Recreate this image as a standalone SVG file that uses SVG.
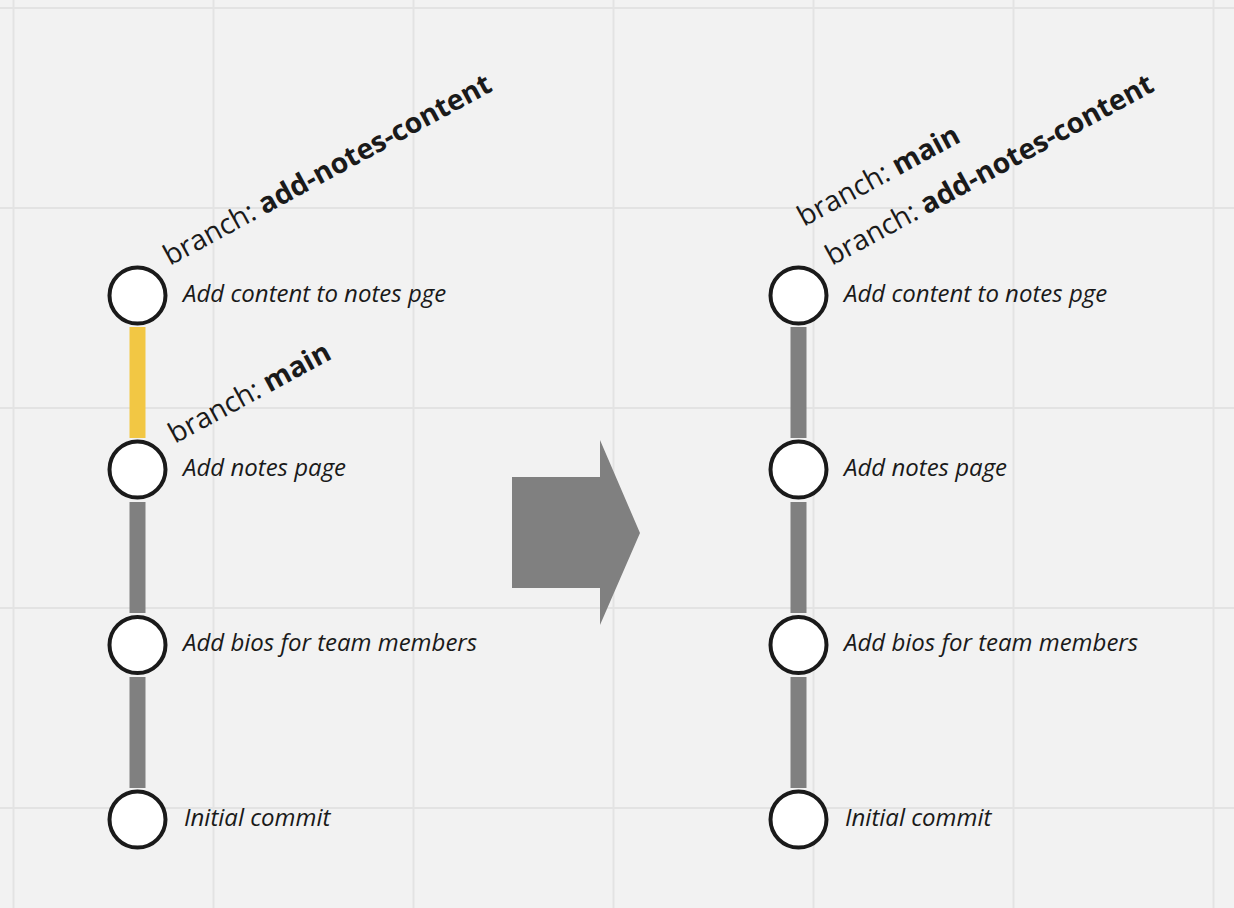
<svg xmlns="http://www.w3.org/2000/svg" width="1234" height="908" viewBox="0 0 1234 908">
<style>
.grid{stroke:#e3e3e3;stroke-width:2}
.seg{stroke-width:16;stroke:#808080}
.seg.y{stroke:#f2c744}
.node circle{fill:#fff;stroke:#1a1a1a;stroke-width:4}
.lbl{font-family:"Open Sans","Noto Sans",sans-serif;font-style:italic;font-size:24px;fill:#1a1a1a}
.br{font-family:"Open Sans","Noto Sans",sans-serif;font-size:28.3px;fill:#1a1a1a}
.br tspan{font-weight:bold}
</style>
<rect width="1234" height="908" fill="#f2f2f2"/>
<g id="grid">
<line class="grid" x1="13.5" y1="0" x2="13.5" y2="908"/>
<line class="grid" x1="213.5" y1="0" x2="213.5" y2="908"/>
<line class="grid" x1="413.5" y1="0" x2="413.5" y2="908"/>
<line class="grid" x1="613.5" y1="0" x2="613.5" y2="908"/>
<line class="grid" x1="813.5" y1="0" x2="813.5" y2="908"/>
<line class="grid" x1="1013.5" y1="0" x2="1013.5" y2="908"/>
<line class="grid" x1="1213.5" y1="0" x2="1213.5" y2="908"/>
<line class="grid" x1="0" y1="8" x2="1234" y2="8"/>
<line class="grid" x1="0" y1="208" x2="1234" y2="208"/>
<line class="grid" x1="0" y1="408" x2="1234" y2="408"/>
<line class="grid" x1="0" y1="608" x2="1234" y2="608"/>
<line class="grid" x1="0" y1="808" x2="1234" y2="808"/>
</g>
<g id="connectors">
<line class="seg y" x1="137.5" y1="327" x2="137.5" y2="438"/>
<line class="seg" x1="137.5" y1="502" x2="137.5" y2="613"/>
<line class="seg" x1="137.5" y1="677" x2="137.5" y2="788"/>
<line class="seg" x1="798.5" y1="327" x2="798.5" y2="438"/>
<line class="seg" x1="798.5" y1="502" x2="798.5" y2="613"/>
<line class="seg" x1="798.5" y1="677" x2="798.5" y2="788"/>
</g>
<g id="arrow">
<polygon points="512,477 600,477 600,440 640,533 600,625 600,588 512,588" fill="#808080"/>
</g>
<g id="left-commit-4" class="node"><circle cx="137.5" cy="295.5" r="28"/><text class="lbl" x="183" y="302">Add content to notes pge</text></g>
<g id="left-commit-3" class="node"><circle cx="137.5" cy="469.5" r="28"/><text class="lbl" x="183" y="476">Add notes page</text></g>
<g id="left-commit-2" class="node"><circle cx="137.5" cy="645" r="28"/><text class="lbl" x="183" y="651">Add bios for team members</text></g>
<g id="left-commit-1" class="node"><circle cx="137.5" cy="819.5" r="28"/><text class="lbl" x="184" y="826">Initial commit</text></g>
<g id="left-branch-feature"><text class="br" x="170" y="266" transform="rotate(-28.5 170 266)">branch: <tspan>add-notes-content</tspan></text></g>
<g id="left-branch-main"><text class="br" x="175" y="444" transform="rotate(-28.5 175 444)">branch: <tspan>main</tspan></text></g>
<g id="right-commit-4" class="node"><circle cx="798.5" cy="295.5" r="28"/><text class="lbl" x="844" y="302">Add content to notes pge</text></g>
<g id="right-commit-3" class="node"><circle cx="798.5" cy="469.5" r="28"/><text class="lbl" x="844" y="476">Add notes page</text></g>
<g id="right-commit-2" class="node"><circle cx="798.5" cy="645" r="28"/><text class="lbl" x="844" y="651">Add bios for team members</text></g>
<g id="right-commit-1" class="node"><circle cx="798.5" cy="819.5" r="28"/><text class="lbl" x="845" y="826">Initial commit</text></g>
<g id="right-branch-main"><text class="br" x="804" y="227" transform="rotate(-28.5 804 227)">branch: <tspan>main</tspan></text></g>
<g id="right-branch-feature"><text class="br" x="832" y="266" transform="rotate(-28.5 832 266)">branch: <tspan>add-notes-content</tspan></text></g>
</svg>
